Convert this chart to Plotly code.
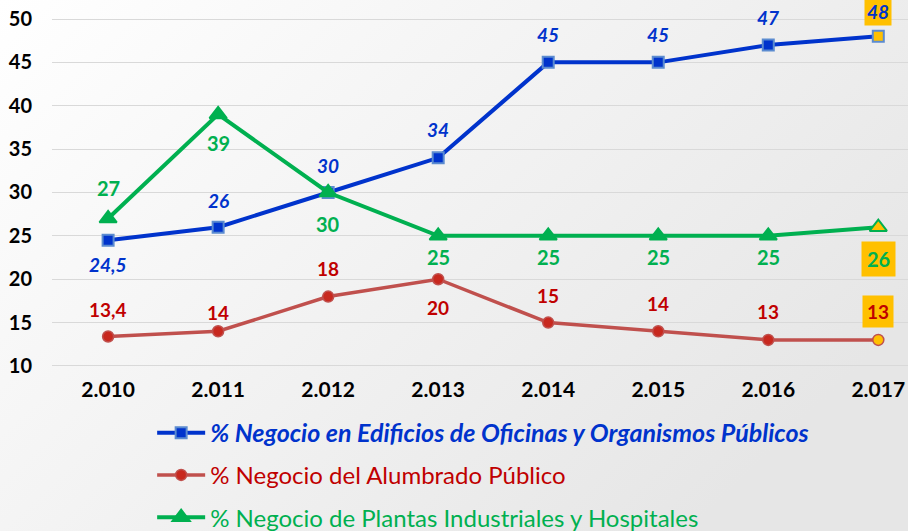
import plotly.graph_objects as go

years = ["2.010", "2.011", "2.012", "2.013", "2.014", "2.015", "2.016", "2.017"]
edificios = [24.5, 26, 30, 34, 45, 45, 47, 48]
alumbrado = [13.4, 14, 18, 20, 15, 14, 13, 13]
plantas = [27, 39, 30, 25, 25, 25, 25, 26]

lbl_edif = ["24,5", "26", "30", "34", "45", "45", "47", "48"]
lbl_alum = ["13,4", "14", "18", "20", "15", "14", "13", "13"]
lbl_plan = ["27", "39", "30", "25", "25", "25", "25", "26"]

# label offsets in px (positive = above)
off_edif = [-24, 27, 27, 28, 28, 28, 28, 25]
off_alum = [27, 19, 28, -28, 27, 28, 28, 28]
off_plan = [31, -29, -32, -21, -21, -21, -21, -32]

BLUE = "#0033CC"
RED_LINE = "#C0504D"
RED_TXT = "#C00000"
GREEN = "#00B050"
GOLD = "#FFC000"
FONT = "Lato"

fig = go.Figure()

n = len(years)
fig.add_trace(go.Scatter(
    x=years, y=edificios, mode="lines+markers",
    name=f"<span style='color:{BLUE};font-size:25px'><b><i>% Negocio en Edificios de Oficinas y Organismos Públicos</i></b></span>",
    line=dict(color=BLUE, width=4),
    marker=dict(symbol="square", size=11, color=[BLUE] * (n - 1) + [GOLD],
                line=dict(color="#5B8BD0", width=2)),
    legendgroup="a",
))
fig.add_trace(go.Scatter(
    x=years, y=alumbrado, mode="lines+markers",
    name=f"<span style='color:{RED_TXT}'>% Negocio del Alumbrado Público</span>",
    line=dict(color=RED_LINE, width=3.5),
    marker=dict(symbol="circle", size=11, color=["#C8281E"] * (n - 1) + [GOLD],
                line=dict(color=RED_LINE, width=1.5)),
    legendgroup="b",
))
fig.add_trace(go.Scatter(
    x=years, y=plantas, mode="lines+markers",
    name=f"<span style='color:{GREEN}'>% Negocio de Plantas Industriales y Hospitales</span>",
    line=dict(color=GREEN, width=4),
    marker=dict(symbol="triangle-up", size=15, color=[GREEN] * (n - 1) + [GOLD],
                line=dict(color=GREEN, width=2)),
    legendgroup="c",
))

for i in range(n):
    boxed = i == n - 1
    fig.add_annotation(x=i, y=edificios[i], text=lbl_edif[i], showarrow=False,
                       yshift=off_edif[i],
                       font=dict(family=FONT, size=19, color=BLUE, weight="bold", style="italic"),
                       bgcolor=GOLD if boxed else None, borderpad=2)
    fig.add_annotation(x=i, y=alumbrado[i], text=lbl_alum[i], showarrow=False,
                       yshift=off_alum[i],
                       font=dict(family=FONT, size=19, color=RED_TXT, weight="bold"),
                       bgcolor=GOLD if boxed else None, borderpad=4)
    fig.add_annotation(x=i, y=plantas[i], text=lbl_plan[i], showarrow=False,
                       yshift=off_plan[i],
                       font=dict(family=FONT, size=20, color=GREEN, weight="bold"),
                       bgcolor=GOLD if boxed else None, borderpad=5)

bg_svg = ("data:image/svg+xml;utf8,<svg xmlns='http://www.w3.org/2000/svg' width='100' height='100' "
          "preserveAspectRatio='none'><defs><linearGradient id='g' x1='0' y1='0' x2='1' y2='0.6'>"
          "<stop offset='0' stop-color='%23FFFFFF'/><stop offset='1' stop-color='%23E6E6E6'/>"
          "</linearGradient></defs><rect width='100' height='100' fill='url(%23g)'/></svg>")

fig.update_layout(
    width=908, height=531,
    margin=dict(l=52, r=0, t=0, b=156, autoexpand=False),
    paper_bgcolor="#F4F4F4",
    plot_bgcolor="rgba(0,0,0,0)",
    font=dict(family=FONT, color="#000000"),
    showlegend=True,
    legend=dict(x=0.117, xanchor="left", y=-0.095, yanchor="top",
                orientation="v", bgcolor="rgba(0,0,0,0)",
                font=dict(family=FONT, size=24), tracegroupgap=8,
                itemwidth=48),
    images=[dict(source=bg_svg, xref="paper", yref="paper", x=-0.0608, y=1,
                 sizex=1.0608, sizey=1.416, sizing="stretch", layer="below",
                 xanchor="left", yanchor="top")],
    xaxis=dict(type="category", range=[-0.51, 7.27], showgrid=False, zeroline=False,
               showline=False, ticks="", automargin=False,
               tickfont=dict(family=FONT, size=21, color="#000000", weight="bold")),
    yaxis=dict(range=[8.96, 52.19], tick0=10, dtick=5, showgrid=True,
               gridcolor="#D9D9D9", gridwidth=1, zeroline=False, showline=False,
               ticks="", ticklabelstandoff=19, automargin=False,
               tickfont=dict(family=FONT, size=20, color="#000000", weight="bold")),
)

fig.write_html("out.html", config={"displayModeBar": False},
               post_script="document.body.style.margin='0';document.body.style.overflow='hidden';")
